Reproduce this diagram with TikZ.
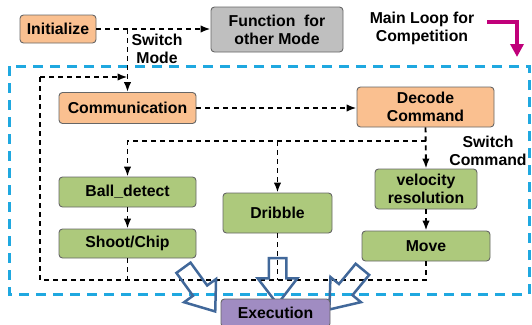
\documentclass[tikz,border=0pt]{standalone}
\usepackage{fontspec}
\setmainfont{Liberation Sans}
\usetikzlibrary{arrows.meta,shapes.arrows}
\definecolor{boxorange}{HTML}{FAC090}
\definecolor{boxgreen}{HTML}{ADC97C}
\definecolor{boxgray}{HTML}{BFBFBF}
\definecolor{boxpurple}{HTML}{A08CC2}
\definecolor{loopcyan}{HTML}{1FA8E0}
\definecolor{loopmagenta}{HTML}{C0007A}
\definecolor{fatblue}{HTML}{41689A}
\tikzset{
  box/.style={draw=black!60, line width=0.9pt, rounded corners=3.5pt, inner sep=0pt,
    align=center, font=\fontsize{15.8}{18}\selectfont\bfseries},
  orangebox/.style={box, fill=boxorange},
  greenbox/.style={box, fill=boxgreen},
  graybox/.style={box, fill=boxgray},
  purplebox/.style={box, fill=boxpurple},
  lbl/.style={align=center, inner sep=0pt, font=\fontsize{15.8}{18}\selectfont\bfseries},
  dashline/.style={line width=1.9pt, dash pattern=on 5pt off 4pt},
  tip/.style={-{Latex[length=10pt,width=7.5pt]}},
  fatarrow/.style={single arrow, draw=fatblue, line width=2.5pt, inner xsep=0pt, inner ysep=7.5pt,
    single arrow head extend=11pt, single arrow tip angle=75},
}
\begin{document}
\begin{tikzpicture}[x=1pt,y=-1pt]
\useasboundingbox (0,0) rectangle (532,324);
% main loop frame
\draw[loopcyan, line width=3pt, dash pattern=on 10pt off 7pt] (9,66) rectangle (529,294);

% nodes
\node[orangebox, minimum width=76pt, minimum height=28pt] (init) at (58,29) {Initialize};
\node[graybox, minimum width=132pt, minimum height=45pt] (func) at (277,29.5) {Function~~for\\other Mode};
\node[orangebox, minimum width=137pt, minimum height=31pt] (comm) at (127.5,108) {Communication};
\node[orangebox, minimum width=137pt, minimum height=40pt] (dec) at (425.5,107) {Decode\\Command};
\node[greenbox, minimum width=137pt, minimum height=30pt] (ball) at (127.5,192) {Ball\_detect};
\node[greenbox, minimum width=137pt, minimum height=29pt] (shoot) at (127.5,243.5) {Shoot/Chip};
\node[greenbox, minimum width=109pt, minimum height=40pt] (drib) at (277.5,213) {Dribble};
\node[greenbox, minimum width=102pt, minimum height=40pt] (vel) at (426,189) {velocity\\resolution};
\node[greenbox, minimum width=128pt, minimum height=30pt] (move) at (426,246) {Move};

% labels
\node[lbl] (swmode) at (157,49) {Switch\\Mode};
\node[lbl] (mainloop) at (422,28) {Main Loop for\\Competition};
\node[lbl] (swcmd) at (488,151) {Switch\\Command};

% magenta loop arrow
\coordinate (mstart) at (487,22);
\coordinate (mend) at (517,57);
\draw[loopmagenta, line width=4.5pt, -{Triangle[length=13pt,width=13pt]}] (mstart) -- (mstart -| mend) -- (mend);

% dashed connectors
\coordinate (split) at (127.5,29);
\coordinate (loopL) at (40,280);
\coordinate (loopT) at (40,77);
\coordinate (loopR) at (127.5,77);
\coordinate (cmdY) at (0,141);
\draw[dashline, tip] (init.east) -- (init.east -| func.west);
\draw[dashline, tip] (split) -- (comm.north);
\draw[dashline] (move.south) -- (move.south |- loopL) -- (loopL) -- (loopT);
\draw[dashline, tip] (loopT) -- (loopR);
\draw[dashline] (shoot.south) -- (shoot.south |- loopL);
\draw[dashline] (drib.south) -- (drib.south |- loopL);
\draw[dashline, tip] (comm.east) -- (comm.east -| dec.west);
\draw[dashline, tip] (dec.south) -- (vel.north);
\draw[dashline, tip] (dec.south |- cmdY) -- (ball.north |- cmdY) -- (ball.north);
\draw[dashline, tip] (drib.north |- cmdY) -- (drib.north);
\draw[dashline, tip] (ball.south) -- (shoot.north);
\draw[dashline, tip] (vel.south) -- (move.north);

% fat arrows to execution
\node[fatarrow, rotate=-54, minimum height=54pt] (fa1) at (196,285) {};
\node[fatarrow, rotate=-90, minimum height=46pt] (fa2) at (277.5,275.5) {};
\node[fatarrow, rotate=-129.5, minimum height=52pt] (fa3) at (349.5,285) {};

\node[purplebox, minimum width=109pt, minimum height=28pt] (exec) at (275.5,313) {Execution};
\end{tikzpicture}
\end{document}
